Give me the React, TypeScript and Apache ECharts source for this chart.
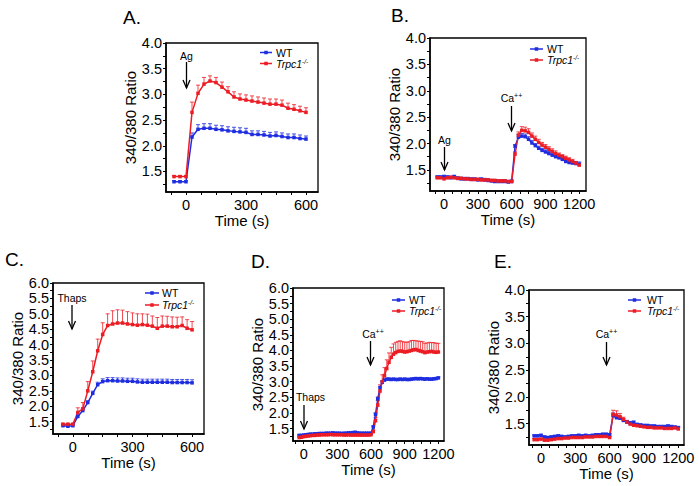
import React, { useEffect, useRef } from 'react';
import * as echarts from 'echarts';

const BLUE = '#1f2de0';
const RED = '#ec1c24';
const FONT = 'Liberation Sans, Arial, sans-serif';

// ---------- Panel A ----------
const timeA = [-60, -30, 0, 30, 60, 90, 120, 150, 180, 210, 240, 270, 300, 330, 360, 390, 420, 450, 480, 510, 540, 570, 600];
const wtA = [1.30, 1.30, 1.30, 2.17, 2.32, 2.34, 2.34, 2.32, 2.31, 2.29, 2.28, 2.27, 2.26, 2.22, 2.22, 2.21, 2.19, 2.20, 2.18, 2.16, 2.16, 2.14, 2.13];
const wtAErr = [0.02, 0.02, 0.02, 0.08, 0.09, 0.09, 0.09, 0.08, 0.08, 0.08, 0.08, 0.08, 0.08, 0.07, 0.07, 0.07, 0.07, 0.07, 0.07, 0.07, 0.07, 0.07, 0.06];
const koA = [1.40, 1.40, 1.40, 2.65, 3.02, 3.20, 3.26, 3.23, 3.14, 3.05, 2.95, 2.91, 2.89, 2.87, 2.85, 2.83, 2.81, 2.81, 2.79, 2.73, 2.71, 2.68, 2.65];
const koAErr = [0.02, 0.02, 0.02, 0.20, 0.16, 0.13, 0.10, 0.10, 0.10, 0.10, 0.10, 0.10, 0.10, 0.10, 0.10, 0.10, 0.10, 0.10, 0.10, 0.10, 0.09, 0.09, 0.09];

// ---------- Panel B ----------
const timeB = [-60, -30, 0, 30, 60, 90, 120, 150, 180, 210, 240, 270, 300, 330, 360, 390, 420, 450, 480, 510, 540, 570, 600,
  630, 660, 690, 720, 750, 780, 810, 840, 870, 900, 930, 960, 990, 1020, 1050, 1080, 1110, 1140, 1170, 1200];
const wtB = [1.36, 1.36, 1.37, 1.36, 1.35, 1.37, 1.34, 1.33, 1.33, 1.33, 1.32, 1.32, 1.31, 1.32, 1.31, 1.30, 1.29, 1.28, 1.28, 1.28, 1.28, 1.27, 1.28,
  1.95, 2.12, 2.14, 2.13, 2.08, 2.01, 1.96, 1.91, 1.87, 1.84, 1.81, 1.78, 1.75, 1.73, 1.70, 1.66, 1.64, 1.63, 1.62, 1.61];
const wtBErr = [0.03, 0.03, 0.03, 0.03, 0.03, 0.03, 0.03, 0.03, 0.03, 0.03, 0.03, 0.03, 0.03, 0.03, 0.03, 0.03, 0.03, 0.03, 0.03, 0.03, 0.03, 0.03, 0.03,
  0.03, 0.05, 0.05, 0.05, 0.05, 0.05, 0.04, 0.04, 0.04, 0.04, 0.04, 0.04, 0.04, 0.04, 0.04, 0.04, 0.04, 0.04, 0.04, 0.04];
const koB = [1.35, 1.35, 1.33, 1.35, 1.36, 1.35, 1.34, 1.34, 1.33, 1.33, 1.32, 1.32, 1.32, 1.31, 1.31, 1.31, 1.30, 1.30, 1.29, 1.29, 1.29, 1.28, 1.28,
  1.80, 2.16, 2.25, 2.24, 2.21, 2.14, 2.08, 2.02, 1.97, 1.93, 1.89, 1.85, 1.81, 1.78, 1.75, 1.72, 1.69, 1.66, 1.63, 1.59];
const koBErr = [0.02, 0.02, 0.02, 0.02, 0.02, 0.02, 0.02, 0.02, 0.02, 0.02, 0.02, 0.02, 0.02, 0.02, 0.02, 0.02, 0.02, 0.02, 0.02, 0.02, 0.02, 0.02, 0.02,
  0.04, 0.06, 0.07, 0.07, 0.07, 0.06, 0.06, 0.06, 0.05, 0.05, 0.05, 0.05, 0.05, 0.04, 0.04, 0.04, 0.04, 0.04, 0.03, 0.03];

// ---------- Panel C ----------
const timeC = [-50, -25, 0, 25, 50, 75, 100, 125, 150, 175, 200, 225, 250, 275, 300, 325, 350, 375, 400, 425, 450, 475, 500, 525, 550, 575, 600];
const wtC = [1.37, 1.35, 1.37, 1.67, 1.86, 2.12, 2.42, 2.70, 2.80, 2.83, 2.83, 2.82, 2.82, 2.81, 2.81,
  2.79, 2.78, 2.78, 2.78, 2.78, 2.78, 2.78, 2.77, 2.77, 2.77, 2.77, 2.76];
const wtCErr = [0.02, 0.02, 0.02, 0.05, 0.06, 0.06, 0.07, 0.08, 0.09, 0.10, 0.10, 0.10, 0.10, 0.10, 0.10,
  0.10, 0.10, 0.10, 0.10, 0.10, 0.10, 0.10, 0.10, 0.10, 0.10, 0.10, 0.10];
const koC = [1.42, 1.42, 1.42, 1.80, 1.92, 2.50, 3.12, 3.80, 4.33, 4.62, 4.67, 4.70, 4.70, 4.67, 4.65,
  4.63, 4.65, 4.63, 4.60, 4.53, 4.60, 4.60, 4.58, 4.58, 4.62, 4.53, 4.48];
const koCErr = [0.02, 0.02, 0.02, 0.15, 0.20, 0.30, 0.35, 0.38, 0.38, 0.38, 0.43, 0.43, 0.42, 0.40, 0.38,
  0.37, 0.35, 0.36, 0.33, 0.35, 0.33, 0.32, 0.32, 0.31, 0.28, 0.28, 0.27];

// ---------- Panel D ----------
const timeD = [-40, -20, 0, 20, 40, 60, 80, 100, 120, 140, 160, 180, 200, 220, 240, 260, 280, 300, 320, 340, 360, 380, 400, 420, 440, 460, 480, 500, 520, 540, 560, 580, 600,
  620, 640, 660, 680, 700, 720, 740, 760, 780, 800, 820, 840, 860, 880, 900, 920, 940, 960, 980, 1000, 1020, 1040, 1060, 1080, 1100, 1120, 1140, 1160, 1180, 1200];
const wtD = [1.28, 1.28, 1.29, 1.30, 1.31, 1.32, 1.32, 1.33, 1.33, 1.34, 1.34, 1.34, 1.35, 1.35, 1.35, 1.36, 1.35, 1.35, 1.35, 1.34, 1.35, 1.35, 1.36, 1.36, 1.37, 1.38, 1.36, 1.35, 1.35, 1.35, 1.35, 1.35, 1.35,
  1.55, 1.95, 2.45, 2.80, 2.98, 3.05, 3.08, 3.08, 3.07, 3.08, 3.07, 3.07, 3.08, 3.07, 3.08, 3.07, 3.07, 3.08, 3.09, 3.10, 3.09, 3.10, 3.09, 3.08, 3.09, 3.08, 3.08, 3.09, 3.10, 3.12];
const wtDErr = [0.02, 0.02, 0.02, 0.02, 0.02, 0.02, 0.02, 0.02, 0.02, 0.02, 0.02, 0.02, 0.02, 0.02, 0.02, 0.02, 0.02, 0.02, 0.02, 0.02, 0.02, 0.02, 0.02, 0.02, 0.02, 0.02, 0.02, 0.02, 0.02, 0.02, 0.02, 0.02, 0.02,
  0.03, 0.05, 0.06, 0.05, 0.04, 0.03, 0.03, 0.03, 0.03, 0.03, 0.03, 0.03, 0.03, 0.03, 0.03, 0.03, 0.03, 0.03, 0.03, 0.03, 0.03, 0.03, 0.03, 0.03, 0.03, 0.03, 0.03, 0.03, 0.03, 0.03];
const koD = [1.21, 1.22, 1.24, 1.25, 1.26, 1.27, 1.28, 1.28, 1.29, 1.29, 1.30, 1.30, 1.30, 1.30, 1.31, 1.30, 1.30, 1.30, 1.30, 1.30, 1.29, 1.29, 1.30, 1.29, 1.29, 1.29, 1.29, 1.29, 1.29, 1.29, 1.29, 1.29, 1.30,
  1.40, 1.75, 2.25, 2.70, 3.00, 3.20, 3.42, 3.62, 3.78, 3.88, 3.93, 3.97, 3.98, 3.97, 3.95, 3.96, 3.98, 4.00, 4.02, 4.03, 4.00, 3.98, 3.96, 3.93, 3.95, 3.96, 3.97, 3.95, 3.94, 3.95];
const koDErr = [0.02, 0.02, 0.02, 0.02, 0.02, 0.02, 0.02, 0.02, 0.02, 0.02, 0.02, 0.02, 0.02, 0.02, 0.02, 0.02, 0.02, 0.02, 0.02, 0.02, 0.02, 0.02, 0.02, 0.02, 0.02, 0.02, 0.02, 0.02, 0.02, 0.02, 0.02, 0.02, 0.02,
  0.05, 0.10, 0.15, 0.20, 0.22, 0.25, 0.28, 0.30, 0.32, 0.33, 0.33, 0.32, 0.33, 0.31, 0.32, 0.30, 0.30, 0.32, 0.30, 0.28, 0.30, 0.31, 0.32, 0.30, 0.29, 0.30, 0.28, 0.30, 0.29, 0.28];

// ---------- Panel E ----------
const timeE = [-60, -30, 0, 30, 60, 90, 120, 150, 180, 210, 240, 270, 300, 330, 360, 390, 420, 450, 480, 510, 540, 570, 600,
  630, 660, 690, 720, 750, 780, 810, 840, 870, 900, 930, 960, 990, 1020, 1050, 1080, 1110, 1140, 1170, 1200];
const wtE = [1.27, 1.27, 1.28, 1.25, 1.24, 1.25, 1.26, 1.27, 1.26, 1.25, 1.26, 1.27, 1.27, 1.28, 1.27, 1.28, 1.27, 1.28, 1.29, 1.29, 1.30, 1.30, 1.29,
  1.65, 1.61, 1.60, 1.56, 1.53, 1.51, 1.52, 1.48, 1.47, 1.46, 1.46, 1.45, 1.45, 1.44, 1.44, 1.44, 1.45, 1.44, 1.43, 1.42];
const wtEErr = [0.02, 0.02, 0.02, 0.02, 0.02, 0.02, 0.02, 0.02, 0.02, 0.02, 0.02, 0.02, 0.02, 0.02, 0.02, 0.02, 0.02, 0.02, 0.02, 0.02, 0.02, 0.02, 0.02,
  0.05, 0.04, 0.04, 0.03, 0.03, 0.03, 0.03, 0.03, 0.03, 0.03, 0.03, 0.03, 0.03, 0.03, 0.03, 0.03, 0.03, 0.03, 0.03, 0.03];
const koE = [1.20, 1.20, 1.21, 1.19, 1.19, 1.20, 1.21, 1.22, 1.22, 1.23, 1.23, 1.24, 1.24, 1.24, 1.24, 1.25, 1.25, 1.25, 1.26, 1.26, 1.26, 1.26, 1.24,
  1.67, 1.66, 1.63, 1.58, 1.53, 1.49, 1.47, 1.46, 1.45, 1.44, 1.43, 1.43, 1.42, 1.42, 1.42, 1.41, 1.41, 1.41, 1.42, 1.40];
const koEErr = [0.02, 0.02, 0.02, 0.02, 0.02, 0.02, 0.02, 0.02, 0.02, 0.02, 0.02, 0.02, 0.02, 0.02, 0.02, 0.02, 0.02, 0.02, 0.02, 0.02, 0.02, 0.02, 0.02,
  0.08, 0.08, 0.06, 0.04, 0.03, 0.03, 0.03, 0.03, 0.03, 0.03, 0.03, 0.03, 0.03, 0.03, 0.03, 0.03, 0.03, 0.03, 0.03, 0.03];

// ---------- Tick labels / tick positions ----------
const xLabelsShort = [0, 300, 600];
const xLabelsLong = [0, 300, 600, 900, 1200];
const xTicksShort = [-75, 0, 75, 150, 225, 300, 375, 450, 525, 600];
const xTicksLong = [-75, 0, 75, 150, 225, 300, 375, 450, 525, 600, 675, 750, 825, 900, 975, 1050, 1125, 1200];
const yLabels4 = [1.5, 2.0, 2.5, 3.0, 3.5, 4.0];
const yLabels6 = [1.5, 2.0, 2.5, 3.0, 3.5, 4.0, 4.5, 5.0, 5.5, 6.0];
const yTicks4 = [1.25, 1.5, 1.75, 2.0, 2.25, 2.5, 2.75, 3.0, 3.25, 3.5, 3.75, 4.0];
const yTicks6 = [1.25, 1.5, 1.75, 2.0, 2.25, 2.5, 2.75, 3.0, 3.25, 3.5, 3.75, 4.0, 4.25, 4.5, 4.75, 5.0, 5.25, 5.5, 5.75, 6.0];

const panels = [
  { letter: 'A.', lx: 123, ly: 17.5, grid: { left: 166, top: 43, width: 152, height: 149 }, xMin: -100, xMax: 660, yMin: 1.1, yMax: 4.0,
    xLabels: xLabelsShort, xTicks: xTicksShort, yLabels: yLabels4, yTicks: yTicks4,
    time: timeA, wt: wtA, wtErr: wtAErr, ko: koA, koErr: koAErr,
    legend: { x1: 260, x2: 272, tx: 276, y1: 52.5, y2: 63.5 } },
  { letter: 'B.', lx: 391, ly: 15, grid: { left: 430, top: 38, width: 156, height: 153 }, xMin: -125, xMax: 1260, yMin: 1.1, yMax: 4.0,
    xLabels: xLabelsLong, xTicks: xTicksLong, yLabels: yLabels4, yTicks: yTicks4,
    time: timeB, wt: wtB, wtErr: wtBErr, ko: koB, koErr: koBErr,
    legend: { x1: 530, x2: 543, tx: 547, y1: 49, y2: 60 } },
  { letter: 'C.', lx: 5, ly: 259, grid: { left: 53, top: 283, width: 151, height: 151 }, xMin: -100, xMax: 660, yMin: 1.1, yMax: 6.0,
    xLabels: xLabelsShort, xTicks: xTicksShort, yLabels: yLabels6, yTicks: yTicks6,
    time: timeC, wt: wtC, wtErr: wtCErr, ko: koC, koErr: koCErr,
    legend: { x1: 145, x2: 159, tx: 162, y1: 293, y2: 305 } },
  { letter: 'D.', lx: 251, ly: 261, grid: { left: 293, top: 288, width: 151, height: 153 }, xMin: -95, xMax: 1250, yMin: 1.1, yMax: 6.0,
    xLabels: xLabelsLong, xTicks: xTicksLong, yLabels: yLabels6, yTicks: yTicks6,
    time: timeD, wt: wtD, wtErr: wtDErr, ko: koD, koErr: koDErr,
    legend: { x1: 392, x2: 405, tx: 409, y1: 300, y2: 311 } },
  { letter: 'E.', lx: 494, ly: 261.5, grid: { left: 529, top: 290, width: 155, height: 155 }, xMin: -105, xMax: 1250, yMin: 1.1, yMax: 4.0,
    xLabels: xLabelsLong, xTicks: xTicksLong, yLabels: yLabels4, yTicks: yTicks4,
    time: timeE, wt: wtE, wtErr: wtEErr, ko: koE, koErr: koEErr,
    legend: { x1: 628, x2: 641, tx: 647, y1: 300, y2: 311 } },
];

// annotation arrows: text label, x, text y, arrow start, arrow end
const annotations = [
  { text: 'Ag', x: 186.5, ty: 56, y1: 62, y2: 88 },
  { text: 'Ag', x: 444.5, ty: 140, y1: 147, y2: 170 },
  { text: 'Ca', sup: true, x: 511.5, ty: 98, y1: 106, y2: 131 },
  { text: 'Thaps', x: 72, ty: 297.5, y1: 305, y2: 329 },
  { text: 'Thaps', x: 304, tx: 310.5, ty: 397, y1: 405, y2: 429 },
  { text: 'Ca', sup: true, x: 370.5, tx: 373, ty: 333.5, y1: 341, y2: 365 },
  { text: 'Ca', sup: true, x: 606.5, ty: 334, y1: 342, y2: 365 },
];

function errorSeries(i: number, time: number[], vals: number[], errs: number[], color: string) {
  return {
    type: 'custom',
    xAxisIndex: i,
    yAxisIndex: i,
    silent: true,
    z: 1,
    data: time.map((t, j) => [t, vals[j], errs[j]]),
    encode: { x: 0, y: 1 },
    renderItem: (params: any, api: any) => {
      const x = api.value(0);
      const y = api.value(1);
      const e = api.value(2);
      const p0 = api.coord([x, y]);
      const p1 = api.coord([x, y + e]);
      const st = { stroke: color, lineWidth: 0.8 };
      return {
        type: 'group',
        children: [
          { type: 'line', shape: { x1: p0[0], y1: p0[1], x2: p1[0], y2: p1[1] }, style: st },
          { type: 'line', shape: { x1: p1[0] - 2, y1: p1[1], x2: p1[0] + 2, y2: p1[1] }, style: st },
        ],
      };
    },
  };
}

function lineSeries(i: number, name: string, time: number[], vals: number[], color: string) {
  return {
    type: 'line',
    name,
    xAxisIndex: i,
    yAxisIndex: i,
    silent: true,
    z: 3,
    data: time.map((t, j) => [t, vals[j]]),
    symbol: 'rect',
    symbolSize: 3.5,
    showSymbol: true,
    lineStyle: { color, width: 1.5 },
    itemStyle: { color },
  };
}

export default function App() {
  const ref = useRef<HTMLDivElement>(null);

  useEffect(() => {
    if (!ref.current) return;
    const chart = echarts.init(ref.current, undefined, { renderer: 'svg' });

    const graphics: any[] = [];
    panels.forEach((p) => {
      graphics.push({
        type: 'text', x: p.lx, y: p.ly,
        style: { text: p.letter, fontSize: 19, fontFamily: FONT, fill: '#000', textAlign: 'left', textVerticalAlign: 'middle' },
      });
      const L = p.legend;
      [[L.y1, BLUE], [L.y2, RED]].forEach(([yy, c]: any) => {
        graphics.push({ type: 'line', shape: { x1: L.x1, y1: yy, x2: L.x2, y2: yy }, style: { stroke: c, lineWidth: 1.5 } });
        graphics.push({ type: 'rect', shape: { x: (L.x1 + L.x2) / 2 - 1.75, y: yy - 1.75, width: 3.5, height: 3.5 }, style: { fill: c } });
      });
      graphics.push({
        type: 'text', x: L.tx, y: L.y1,
        style: { text: 'WT', fontSize: 10.5, fontFamily: FONT, fill: '#000', textAlign: 'left', textVerticalAlign: 'middle' },
      });
      graphics.push({
        type: 'text', x: L.tx, y: L.y2,
        style: {
          text: '{i|Trpc1}{s|-/-}', fontFamily: FONT, fill: '#000', textAlign: 'left', textVerticalAlign: 'middle',
          rich: {
            i: { fontSize: 10.5, fontStyle: 'italic', fontFamily: FONT, fill: '#000', lineHeight: 12 },
            s: { fontSize: 6.5, fontStyle: 'italic', fontFamily: FONT, fill: '#000', verticalAlign: 'top', lineHeight: 12 },
          },
        },
      });
    });

    annotations.forEach((a: any) => {
      const tx = a.tx !== undefined ? a.tx : a.x;
      graphics.push({
        type: 'text', x: tx, y: a.ty,
        style: a.sup
          ? {
              text: '{n|Ca}{s|++}', textAlign: 'center', textVerticalAlign: 'middle', fontFamily: FONT, fill: '#000',
              rich: {
                n: { fontSize: 10.5, fontFamily: FONT, fill: '#000', lineHeight: 12 },
                s: { fontSize: 7, fontFamily: FONT, fill: '#000', verticalAlign: 'top', lineHeight: 12 },
              },
            }
          : { text: a.text, fontSize: 10.5, fontFamily: FONT, fill: '#000', textAlign: 'center', textVerticalAlign: 'middle' },
      });
      graphics.push({ type: 'line', shape: { x1: a.x, y1: a.y1, x2: a.x, y2: a.y2 }, style: { stroke: '#000', lineWidth: 1.3 } });
      graphics.push({
        type: 'polyline',
        shape: { points: [[a.x - 3.5, a.y2 - 8], [a.x, a.y2], [a.x + 3.5, a.y2 - 8]] },
        style: { stroke: '#000', lineWidth: 1.3, fill: 'none' },
      });
    });

    const option: any = {
      animation: false,
      backgroundColor: '#fff',
      textStyle: { fontFamily: FONT },
      grid: panels.map((p) => ({ ...p.grid, show: true, borderColor: '#000', borderWidth: 1.3, backgroundColor: 'transparent' })),
      xAxis: panels.map((p, i) => ({
        type: 'value', gridIndex: i, min: p.xMin, max: p.xMax,
        axisLine: { show: true, onZero: false, lineStyle: { color: '#000', width: 1.5 } },
        axisTick: { show: true, customValues: p.xTicks, length: 3, lineStyle: { color: '#000', width: 1 } },
        axisLabel: { customValues: p.xLabels, color: '#000', fontSize: 14.5, fontFamily: FONT, margin: 5, formatter: (v: number) => String(v) },
        splitLine: { show: false },
        name: 'Time (s)', nameLocation: 'middle', nameGap: 21,
        nameTextStyle: { color: '#000', fontSize: 15, fontWeight: 'normal', fontFamily: FONT },
      })),
      yAxis: panels.map((p, i) => ({
        type: 'value', gridIndex: i, min: p.yMin, max: p.yMax,
        axisLine: { show: true, onZero: false, lineStyle: { color: '#000', width: 1.5 } },
        axisTick: { show: true, customValues: p.yTicks, length: 3, lineStyle: { color: '#000', width: 1 } },
        axisLabel: { customValues: p.yLabels, color: '#000', fontSize: 14.5, fontFamily: FONT, margin: 4, formatter: (v: number) => v.toFixed(1) },
        splitLine: { show: false },
        name: '340/380 Ratio', nameLocation: 'middle', nameGap: 28,
        nameTextStyle: { color: '#000', fontSize: 15, fontWeight: 'normal', fontFamily: FONT },
      })),
      series: panels.flatMap((p, i) => [
        errorSeries(i, p.time, p.wt, p.wtErr, BLUE),
        errorSeries(i, p.time, p.ko, p.koErr, RED),
        lineSeries(i, 'WT', p.time, p.wt, BLUE),
        lineSeries(i, 'Trpc1-/-', p.time, p.ko, RED),
      ]),
      graphic: graphics,
    };

    chart.setOption(option);
    return () => chart.dispose();
  }, []);

  return <div ref={ref} style={{ position: 'absolute', left: 0, top: 0, width: 699, height: 486 }} />;
}
